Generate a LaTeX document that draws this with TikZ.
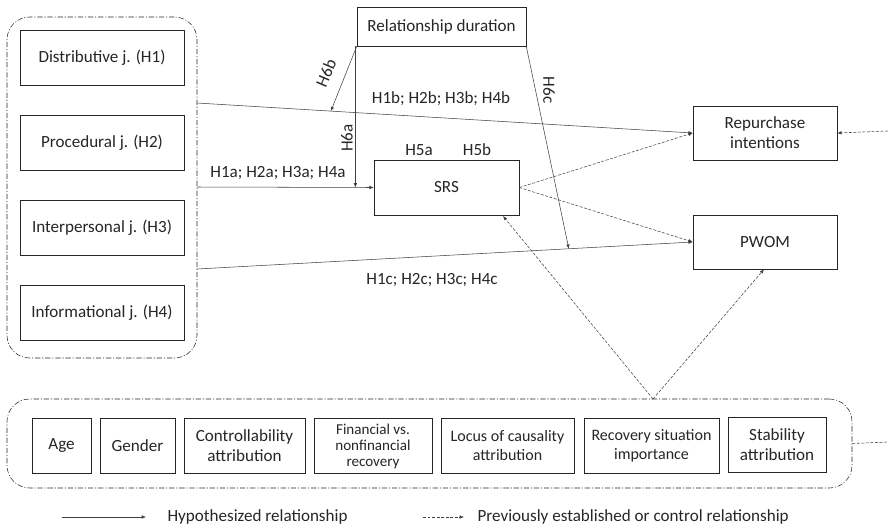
\documentclass[tikz,border=0pt]{standalone}
\usepackage{fontspec}
\setmainfont{Carlito}
\usetikzlibrary{positioning,arrows.meta,calc}
\definecolor{ink}{HTML}{262626}
\definecolor{wire}{HTML}{404040}
\tikzset{
  box/.style={draw=ink,thin,fill=white,align=center,inner sep=1pt,font=\fontsize{12.8}{15}\selectfont,text=ink},
  group/.style={draw=ink,thin,rounded corners=17pt,dash pattern=on 4pt off 1.4pt on 0.8pt off 1.4pt},
  arrow/.style={-{Latex[length=3.2pt,width=2.6pt]},draw=wire,thin},
  ctrl/.style={arrow,dash pattern=on 2.2pt off 1.2pt},
  hlabel/.style={font=\fontsize{12.8}{15}\selectfont,text=ink,inner sep=1pt}
}
\begin{document}
\begin{tikzpicture}[x=0.75pt,y=-0.75pt]
  \useasboundingbox (0,0) rectangle (888,529);
  % justice dimensions
  \node[group,minimum width=142.5pt,minimum height=255.75pt] (justice) at (102,187.5) {};
  \node[box,minimum width=123pt,minimum height=41.25pt] (distrib) at (102,57.5) {Distributive j. (H1)};
  \node[box,minimum width=123pt,minimum height=41.25pt] (proced) at (102,142.5) {Procedural j. (H2)};
  \node[box,minimum width=123pt,minimum height=41.25pt] (interp) at (102,227.5) {Interpersonal j. (H3)};
  \node[box,minimum width=123pt,minimum height=41.25pt] (inform) at (102,312.5) {Informational j. (H4)};
  % moderator, mediator, outcomes
  \node[box,minimum width=126.75pt,minimum height=29.25pt] (duration) at (441.5,26.5) {Relationship duration};
  \node[box,minimum width=108.75pt,minimum height=41.25pt] (srs) at (446.5,187.5) {SRS};
  \node[box,minimum width=108pt,minimum height=40.5pt] (repurchase) at (765,133) {Repurchase\\intentions};
  \node[box,minimum width=108pt,minimum height=40.5pt] (pwom) at (765,242) {PWOM};
  % controls
  \node[group,minimum width=633.75pt,minimum height=66.75pt] (controls) at (429.5,443.5) {};
  \node[box,minimum width=44.25pt,minimum height=41.25pt] (age) at (61.5,445.5) {Age};
  \node[box,minimum width=56.25pt,minimum height=41.25pt] (gender) at (137.5,445.5) {Gender};
  \node[box,minimum width=90.75pt,minimum height=41.25pt] (controll) at (244.5,445.5) {Controllability\\attribution};
  \node[box,minimum width=88.5pt,minimum height=41.25pt,font=\fontsize{11.3}{12}\selectfont] (financial) at (373,446) {Financial vs.\\nonfinancial\\recovery};
  \node[box,minimum width=99.75pt,minimum height=41.25pt,font=\fontsize{12}{14}\selectfont] (locus) at (507.5,445.5) {Locus of causality\\attribution};
  \node[box,minimum width=101.25pt,minimum height=41.25pt,font=\fontsize{12}{14}\selectfont] (importance) at (651.5,445.5) {Recovery situation\\importance};
  \node[box,minimum width=73.5pt,minimum height=41.25pt] (stability) at (777,445) {Stability\\attribution};
  % free ends
  \coordinate (jtop) at (197,103);
  \coordinate (jmid) at (197,187);
  \coordinate (jlow) at (197,269);
  \coordinate (srsin) at (503,216);
  \coordinate (apex) at (653,399);
  \coordinate (rightin) at (888,131);
  \coordinate (rightout) at (888,442);
  % hypothesized paths
  \draw[arrow] (jtop) -- (repurchase.west);
  \draw[arrow] (jmid) -- (srs.west);
  \draw[arrow] (jlow) -- (pwom.west);
  \draw[arrow] (duration.south west) -- ($(jtop)!0.27!(repurchase.west)$);
  \draw[arrow] ([xshift=-1pt]duration.south west) -- ([xshift=-1pt]duration.south west |- srs.west);
  \draw[arrow] (duration.south east) -- ($(jlow)!0.75!(pwom.west)$);
  \node[hlabel] (hb) at (441,99) {H1b; H2b; H3b; H4b};
  \node[hlabel] (ha) at (278,173) {H1a; H2a; H3a; H4a};
  \node[hlabel] (hc) at (432,280) {H1c; H2c; H3c; H4c};
  \node[hlabel] (h5a) at (419,150) {H5a};
  \node[hlabel] (h5b) at (477,150) {H5b};
  \node[hlabel,rotate=67] (h6b) at (326,73) {H6b};
  \node[hlabel,rotate=90] (h6a) at (347,138) {H6a};
  \node[hlabel,rotate=-90] (h6c) at (549,90) {H6c};
  % established and control paths
  \draw[ctrl] (srs.east) -- (repurchase.west);
  \draw[ctrl] (srs.east) -- (pwom.west);
  \draw[ctrl] (apex) -- (srsin);
  \draw[ctrl] (apex) -- ([xshift=-0.75pt]pwom.south);
  \draw[ctrl] (rightin) -- (repurchase.east);
  \draw[ctrl,-] (controls.east) -- (rightout);
  % legend
  \node[hlabel,anchor=west] (leghyp) at (166,517) {Hypothesized relationship};
  \node[hlabel,anchor=west] (legprev) at (476,517) {Previously established or control relationship};
  \coordinate (hypstart) at (62,517);
  \coordinate (prevstart) at (423,517);
  \draw[arrow] (hypstart) -- ([xshift=-15pt]leghyp.west);
  \draw[ctrl] (prevstart) -- ([xshift=-9pt]legprev.west);
\end{tikzpicture}
\end{document}
